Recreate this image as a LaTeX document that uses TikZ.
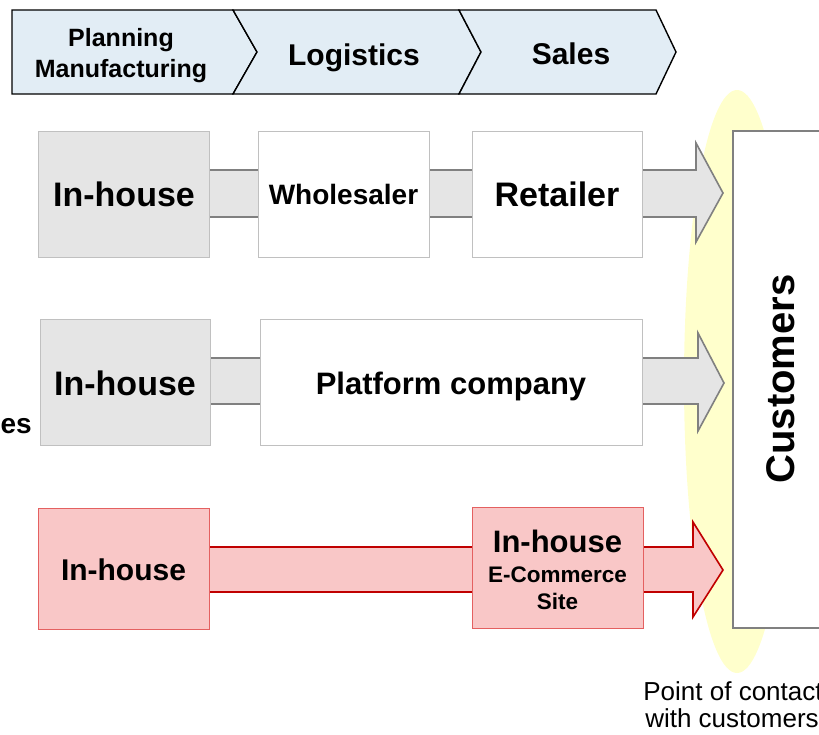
\documentclass[tikz,border=0pt]{standalone}
\usepackage{fontspec}
\setmainfont{Liberation Sans}
\definecolor{chevfill}{RGB}{226,237,245}
\definecolor{grayfill}{RGB}{229,229,229}
\definecolor{grayedge}{RGB}{128,128,128}
\definecolor{boxedge}{RGB}{192,192,192}
\definecolor{pinkfill}{RGB}{249,199,199}
\definecolor{rededge}{RGB}{192,0,0}
\definecolor{redbox}{RGB}{228,96,96}
\definecolor{yellowfill}{RGB}{255,255,204}
\newcommand\fsz[1]{\fontsize{#1}{#1}\selectfont}
\begin{document}
\begin{tikzpicture}[x=1pt,y=-1pt,
  chev/.style={draw=black,line width=1.4pt,fill=chevfill,line join=miter},
  graybox/.style={draw=boxedge,line width=1pt,fill=grayfill,inner sep=0pt},
  whitebox/.style={draw=boxedge,line width=1pt,fill=white,inner sep=0pt},
  pinkbox/.style={draw=redbox,line width=1pt,fill=pinkfill,inner sep=0pt},
  grayarrow/.style={draw=grayedge,line width=1.6pt,fill=grayfill,line join=miter},
  redarrow/.style={draw=rededge,line width=1.6pt,fill=pinkfill,line join=miter},
  lbl/.style={font=\bfseries,inner sep=0pt,anchor=base},
]
\path[use as bounding box] (0,0) rectangle (819,734);
\clip (0,0) rectangle (819,734);

% top chevrons
\draw[chev] (12,10) -- (233,10) -- (257,52) -- (233,94) -- (12,94) -- cycle;
\draw[chev] (233,10) -- (459,10) -- (481,52) -- (459,94) -- (233,94) -- (257,52) -- cycle;
\draw[chev] (459,10) -- (656,10) -- (676,52) -- (656,94) -- (459,94) -- (481,52) -- cycle;
\node[lbl,font=\bfseries\fsz{25}] (t1a) at (121,46) {Planning};
\node[lbl,font=\bfseries\fsz{25}] (t1b) at (121,77) {Manufacturing};
\node[lbl,font=\bfseries\fsz{30}] (t2) at (354,65) {Logistics};
\node[lbl,font=\bfseries\fsz{30}] (t3) at (571,64) {Sales};

% contact ellipse
\fill[yellowfill] (737,381.5) ellipse [x radius=53, y radius=291.5];

% customers box
\node[draw=grayedge,line width=1.2pt,fill=white,minimum width=120,minimum height=497,inner sep=0pt] (cust) at (793,379.5) {};
\node[font=\bfseries\fsz{40},rotate=90,anchor=base,inner sep=0pt] (custt) at (794,379) {Customers};

% row 1 arrow
\draw[grayarrow] (200,170) -- (696,170) -- (696,143) -- (723,193) -- (696,242) -- (696,217) -- (200,217) -- cycle;
\node[graybox,minimum width=171,minimum height=126] (ih1) at (123.5,194) {};
\node[whitebox,minimum width=171,minimum height=126] (wh) at (343.5,194) {};
\node[whitebox,minimum width=170,minimum height=126] (ret) at (557,194) {};
\node[lbl,font=\bfseries\fsz{34}] (ih1t) at (124,206.5) {In-house};
\node[lbl,font=\bfseries\fsz{28}] (wht) at (343.5,204) {Wholesaler};
\node[lbl,font=\bfseries\fsz{34}] (rett) at (557,206.5) {Retailer};

% row 2 arrow
\draw[grayarrow] (200,358) -- (698,358) -- (698,333) -- (724,383) -- (698,431) -- (698,404) -- (200,404) -- cycle;
\node[graybox,minimum width=170,minimum height=126] (ih2) at (125,382) {};
\node[whitebox,minimum width=382,minimum height=126] (plat) at (451,382) {};
\node[lbl,font=\bfseries\fsz{34}] (ih2t) at (125,395) {In-house};
\node[lbl,font=\bfseries\fsz{31}] (platt) at (451,394) {Platform company};
\node[font=\bfseries\fsz{28},inner sep=0pt,anchor=base east] (es) at (32,433) {es};

% row 3 arrow
\draw[redarrow] (200,547) -- (693,547) -- (693,522) -- (723,570) -- (693,617) -- (693,592) -- (200,592) -- cycle;
\node[pinkbox,minimum width=171,minimum height=121] (ih3) at (123.5,568.5) {};
\node[pinkbox,minimum width=171,minimum height=121] (ec) at (557.5,567.5) {};
\node[lbl,font=\bfseries\fsz{30}] (ih3t) at (123.5,580) {In-house};
\node[lbl,font=\bfseries\fsz{31}] (ect1) at (557.5,552) {In-house};
\node[lbl,font=\bfseries\fsz{22.5}] (ect2) at (557.5,582) {E-Commerce};
\node[lbl,font=\bfseries\fsz{22.5}] (ect3) at (557.5,609) {Site};

% point of contact label
\node[inner sep=0pt,anchor=base,font=\fsz{26}] (poc1) at (733,700) {Point of contact};
\node[inner sep=0pt,anchor=base,font=\fsz{26}] (poc2) at (732,727) {with customers};
\end{tikzpicture}
\end{document}
